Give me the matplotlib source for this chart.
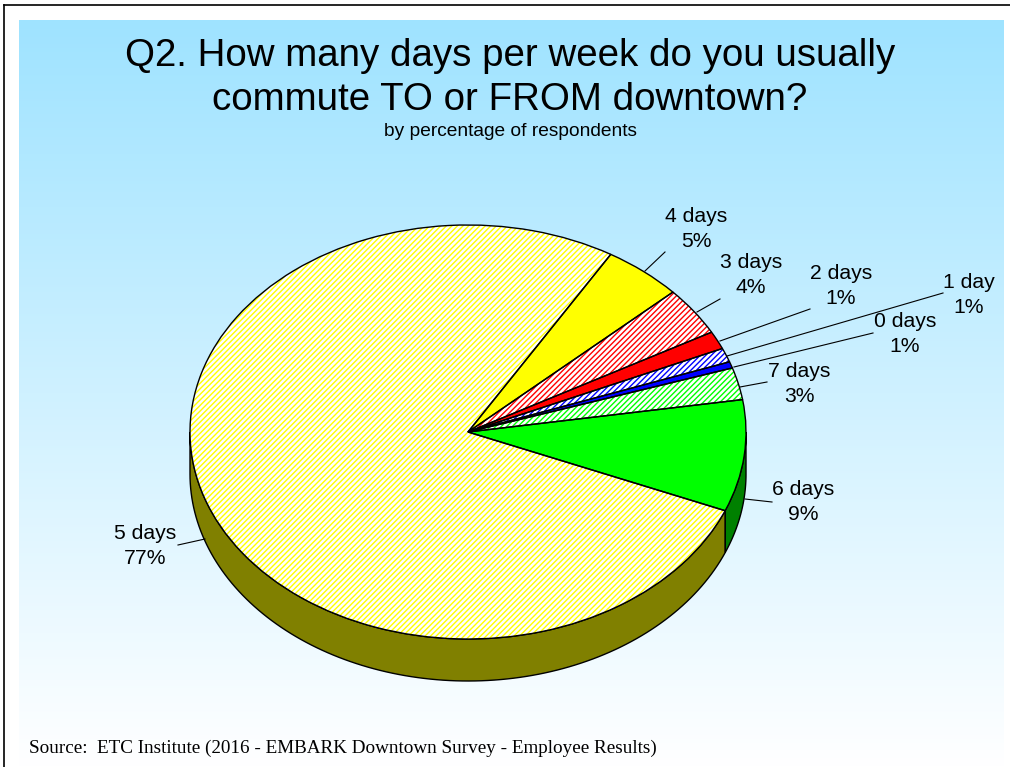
import numpy as np
import matplotlib
matplotlib.use('Agg')
from matplotlib import pyplot as plt
from matplotlib.patches import Polygon

W, H = 1010, 767

# clockwise from the top edge of the 5 days slice
categories = ['4 days', '3 days', '2 days', '1 day', '0 days', '7 days', '6 days', '5 days']
shares = [4.6, 3.8, 1.4, 1.1, 0.5, 2.5, 8.7, 77.3]
pct_labels = ['5%', '4%', '1%', '1%', '1%', '3%', '9%', '77%']
colors = ['#ffff00', '#ff0000', '#ff0000', '#0000ff', '#0000ff', '#00ff00', '#00ff00', '#ffff00']
hatched = [False, True, False, True, False, True, False, True]

title_lines = 'Q2. How many days per week do you usually\ncommute TO or FROM downtown?'
subtitle = 'by percentage of respondents'
source = 'Source:  ETC Institute (2016 - EMBARK Downtown Survey - Employee Results)'

# label centre, leader start, leader end (pixels)
label_pos = [(696, 229), (751, 275), (841, 286), (969, 295), (905, 334), (799, 384), (803, 502), (145, 546)]
leaders = [((665, 252), (645, 271)), ((720, 299), (697, 312)), ((810, 309), (720, 341)),
           ((943, 293), (727, 356)), ((873, 333), (734, 367)), ((767, 382), (740, 387)),
           ((772, 502), (745, 499)), ((178, 545), (205, 539))]

cx, cy, rx, ry, depth = 468, 432, 278, 207, 42
start_angle = 59.1


def px(x, y):
    return x / W, 1 - y / H


plt.rcParams['font.family'] = ['Liberation Sans', 'DejaVu Sans']
plt.rcParams['hatch.linewidth'] = 1.0

fig = plt.figure(figsize=(W / 100, H / 100), dpi=100, facecolor='white')

# background gradient panel
bg = fig.add_axes([19 / W, 0, (1004 - 19) / W, (H - 20) / H])
bg.imshow(np.linspace(0, 1, 256).reshape(-1, 1), aspect='auto',
          cmap=matplotlib.colors.LinearSegmentedColormap.from_list('bg', ['#9fe3ff', '#ffffff']))
bg.axis('off')

# frame lines, top and left only
fig.add_artist(plt.Line2D([4 / W, 4 / W], [0, 1 - 5 / H], color='black', lw=1.2))
fig.add_artist(plt.Line2D([4 / W, 1], [1 - 5 / H, 1 - 5 / H], color='black', lw=1.2))

ax = fig.add_axes([0, 0, 1, 1])
ax.patch.set_alpha(0)

wedges, _ = ax.pie(shares, startangle=start_angle, counterclock=False, radius=1,
                   colors=colors, wedgeprops={'linewidth': 0})
for w, c, h in zip(wedges, colors, hatched):
    if h:
        w.set_facecolor('white')
        w.set_edgecolor(c)
        w.set_hatch('//////')

# outlines on top of the hatching
outline, _ = ax.pie(shares, startangle=start_angle, counterclock=False, radius=1,
                    colors=['none'] * len(shares),
                    wedgeprops={'linewidth': 1, 'edgecolor': 'black', 'facecolor': 'none'})
ax.set_aspect('auto')
ax.set_xlim(-cx / rx, (W - cx) / rx)
ax.set_ylim((cy - H) / ry, cy / ry)
ax.axis('off')

# side wall under the front half: 6 days on the right, 5 days for the rest
d = depth / ry
edges = start_angle - np.cumsum([0] + shares) * 3.6
split = edges[7]
for lo, hi, c in [(-180, split, '#808000'), (split, 0, '#008000')]:
    t = np.radians(np.linspace(lo, hi, 120))
    xs = np.cos(t)
    ys = np.sin(t)
    pts = np.column_stack([np.r_[xs, xs[::-1]], np.r_[ys, ys[::-1] - d]])
    ax.add_patch(Polygon(pts, closed=True, facecolor=c, edgecolor='black', lw=1, zorder=0.5))

fig.text(*px(510, 78), title_lines, ha='center', va='center', fontsize=27.7, color='black', linespacing=1.28)
fig.text(*px(510, 131), subtitle, ha='center', va='center', fontsize=13.75)
fig.text(*px(29, 748), source, ha='left', va='center', fontsize=13.8, family='Liberation Serif')

for cat, pct, pos, seg in zip(categories, pct_labels, label_pos, leaders):
    fig.text(*px(*pos), cat + '\n' + pct, ha='center', va='center', fontsize=15.2, linespacing=1.45)
    fig.add_artist(plt.Line2D([seg[0][0] / W, seg[1][0] / W], [1 - seg[0][1] / H, 1 - seg[1][1] / H],
                              color='black', lw=0.8))

fig.savefig('out.png', dpi=100)
plt.close()
